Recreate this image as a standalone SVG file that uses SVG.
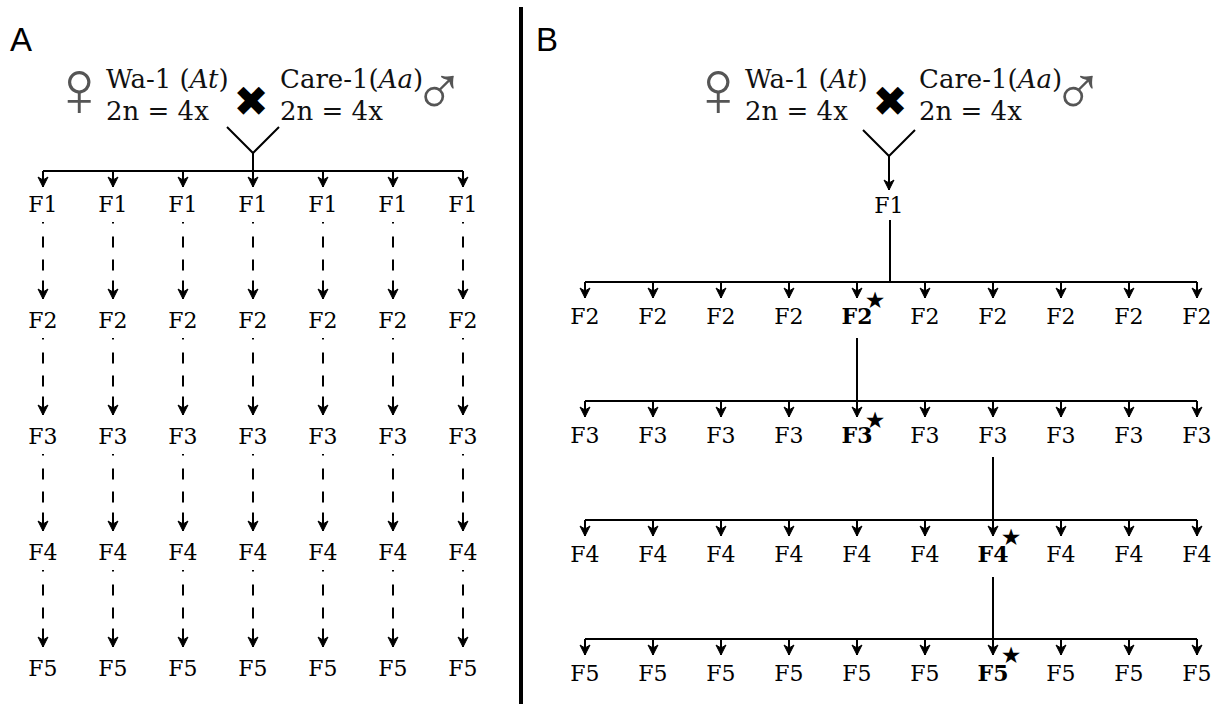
<svg xmlns="http://www.w3.org/2000/svg" width="1225" height="704" viewBox="0 0 1225 704">
<defs>
<style>
.lbl{font-family:"DejaVu Serif","Liberation Serif",serif;font-size:22px;fill:#000;text-anchor:middle}
.bold{font-weight:bold}
.par{font-family:"DejaVu Serif","Liberation Serif",serif;font-size:26px;fill:#111}
.panel{font-family:"Liberation Sans",Arial,sans-serif;font-size:33px;fill:#000}
.sym{font-family:"DejaVu Sans ExtraLight","DejaVu Sans",sans-serif;font-weight:200;fill:#555;text-anchor:middle}
.fem{font-size:80px}
.mal{font-size:70px}
.cross{font-family:"DejaVu Sans",sans-serif;fill:#000;font-size:42px;text-anchor:middle}
.ln{stroke:#000;stroke-width:2;fill:none}
.arr{stroke:#000;stroke-width:2;fill:none;marker-end:url(#ah)}
.dash{stroke-dasharray:1.5 13 11 12 11 10 30}
.star{font-family:"DejaVu Sans",sans-serif;font-size:23px;text-anchor:middle;fill:#000}
</style>
<marker id="ah" markerUnits="userSpaceOnUse" markerWidth="16" markerHeight="16" viewBox="-12 -8 16 16" refX="0" refY="0" orient="auto" overflow="visible">
<path d="M0,0 L-10,-5 L-7,0 L-10,5 Z" fill="#000" stroke="#000" stroke-width="1" stroke-linejoin="miter"/>
</marker>
</defs>
<rect width="1225" height="704" fill="#fff"/>

<!-- divider -->
<line x1="521" y1="7" x2="521" y2="704" stroke="#000" stroke-width="4"/>

<!-- Panel A -->
<g id="panelA">
<text class="panel" x="10" y="51">A</text>
<g id="A-parents">
<text class="sym fem" x="79" y="116">♀</text>
<text class="par" x="106" y="88">Wa-1 (<tspan font-style="italic">At</tspan>)</text>
<text class="par" x="106" y="120">2n = 4x</text>
<text class="cross" x="251" y="116">✖</text>
<text class="par" x="280" y="88">Care-1(<tspan font-style="italic">Aa</tspan>)</text>
<text class="par" x="280" y="120">2n = 4x</text>
<text class="sym mal" x="439" y="115">♂</text>
</g>
<g id="A-connectors">
<path class="ln" d="M227,127 L253,153 L279,127 M253,153 V171 M43,171 H463"/>
<path class="arr" d="M43,171 V187"/>
<path class="arr" d="M113,171 V187"/>
<path class="arr" d="M183,171 V187"/>
<path class="arr" d="M253,171 V187"/>
<path class="arr" d="M323,171 V187"/>
<path class="arr" d="M393,171 V187"/>
<path class="arr" d="M463,171 V187"/>
<g class="dash">
<path class="arr" d="M43,222 V299"/><path class="arr" d="M113,222 V299"/><path class="arr" d="M183,222 V299"/><path class="arr" d="M253,222 V299"/><path class="arr" d="M323,222 V299"/><path class="arr" d="M393,222 V299"/><path class="arr" d="M463,222 V299"/>
<path class="arr" d="M43,338 V415"/><path class="arr" d="M113,338 V415"/><path class="arr" d="M183,338 V415"/><path class="arr" d="M253,338 V415"/><path class="arr" d="M323,338 V415"/><path class="arr" d="M393,338 V415"/><path class="arr" d="M463,338 V415"/>
<path class="arr" d="M43,454 V531"/><path class="arr" d="M113,454 V531"/><path class="arr" d="M183,454 V531"/><path class="arr" d="M253,454 V531"/><path class="arr" d="M323,454 V531"/><path class="arr" d="M393,454 V531"/><path class="arr" d="M463,454 V531"/>
<path class="arr" d="M43,570 V647"/><path class="arr" d="M113,570 V647"/><path class="arr" d="M183,570 V647"/><path class="arr" d="M253,570 V647"/><path class="arr" d="M323,570 V647"/><path class="arr" d="M393,570 V647"/><path class="arr" d="M463,570 V647"/>
</g>
</g>
<g id="A-F1"><text class="lbl" x="43" y="212">F1</text><text class="lbl" x="113" y="212">F1</text><text class="lbl" x="183" y="212">F1</text><text class="lbl" x="253" y="212">F1</text><text class="lbl" x="323" y="212">F1</text><text class="lbl" x="393" y="212">F1</text><text class="lbl" x="463" y="212">F1</text></g>
<g id="A-F2"><text class="lbl" x="43" y="328">F2</text><text class="lbl" x="113" y="328">F2</text><text class="lbl" x="183" y="328">F2</text><text class="lbl" x="253" y="328">F2</text><text class="lbl" x="323" y="328">F2</text><text class="lbl" x="393" y="328">F2</text><text class="lbl" x="463" y="328">F2</text></g>
<g id="A-F3"><text class="lbl" x="43" y="444">F3</text><text class="lbl" x="113" y="444">F3</text><text class="lbl" x="183" y="444">F3</text><text class="lbl" x="253" y="444">F3</text><text class="lbl" x="323" y="444">F3</text><text class="lbl" x="393" y="444">F3</text><text class="lbl" x="463" y="444">F3</text></g>
<g id="A-F4"><text class="lbl" x="43" y="560">F4</text><text class="lbl" x="113" y="560">F4</text><text class="lbl" x="183" y="560">F4</text><text class="lbl" x="253" y="560">F4</text><text class="lbl" x="323" y="560">F4</text><text class="lbl" x="393" y="560">F4</text><text class="lbl" x="463" y="560">F4</text></g>
<g id="A-F5"><text class="lbl" x="43" y="676">F5</text><text class="lbl" x="113" y="676">F5</text><text class="lbl" x="183" y="676">F5</text><text class="lbl" x="253" y="676">F5</text><text class="lbl" x="323" y="676">F5</text><text class="lbl" x="393" y="676">F5</text><text class="lbl" x="463" y="676">F5</text></g>
</g>

<!-- Panel B -->
<g id="panelB">
<text class="panel" x="536" y="51">B</text>
<g id="B-parents">
<text class="sym fem" x="718" y="116">♀</text>
<text class="par" x="745" y="88">Wa-1 (<tspan font-style="italic">At</tspan>)</text>
<text class="par" x="745" y="120">2n = 4x</text>
<text class="cross" x="890" y="116">✖</text>
<text class="par" x="919" y="88">Care-1(<tspan font-style="italic">Aa</tspan>)</text>
<text class="par" x="919" y="120">2n = 4x</text>
<text class="sym mal" x="1078" y="115">♂</text>
</g>
<g id="B-connectors">
<path class="ln" d="M863,130 L889,156 L915,130"/>
<path class="arr" d="M889,156 V190"/>
<path class="ln" d="M890,220 V282 M585,282 H1197"/>
<path class="arr" d="M585,282 V298"/><path class="arr" d="M653,282 V298"/><path class="arr" d="M721,282 V298"/><path class="arr" d="M789,282 V298"/><path class="arr" d="M857,282 V298"/><path class="arr" d="M925,282 V298"/><path class="arr" d="M993,282 V298"/><path class="arr" d="M1061,282 V298"/><path class="arr" d="M1129,282 V298"/><path class="arr" d="M1197,282 V298"/>
<path class="ln" d="M857,338 V401 M585,401 H1197"/>
<path class="arr" d="M585,401 V417"/><path class="arr" d="M653,401 V417"/><path class="arr" d="M721,401 V417"/><path class="arr" d="M789,401 V417"/><path class="arr" d="M857,401 V417"/><path class="arr" d="M925,401 V417"/><path class="arr" d="M993,401 V417"/><path class="arr" d="M1061,401 V417"/><path class="arr" d="M1129,401 V417"/><path class="arr" d="M1197,401 V417"/>
<path class="ln" d="M993,457 V520 M585,520 H1197"/>
<path class="arr" d="M585,520 V536"/><path class="arr" d="M653,520 V536"/><path class="arr" d="M721,520 V536"/><path class="arr" d="M789,520 V536"/><path class="arr" d="M857,520 V536"/><path class="arr" d="M925,520 V536"/><path class="arr" d="M993,520 V536"/><path class="arr" d="M1061,520 V536"/><path class="arr" d="M1129,520 V536"/><path class="arr" d="M1197,520 V536"/>
<path class="ln" d="M993,577 V639 M585,639 H1197"/>
<path class="arr" d="M585,639 V655"/><path class="arr" d="M653,639 V655"/><path class="arr" d="M721,639 V655"/><path class="arr" d="M789,639 V655"/><path class="arr" d="M857,639 V655"/><path class="arr" d="M925,639 V655"/><path class="arr" d="M993,639 V655"/><path class="arr" d="M1061,639 V655"/><path class="arr" d="M1129,639 V655"/><path class="arr" d="M1197,639 V655"/>
</g>
<g id="B-F1"><text class="lbl" x="889" y="213">F1</text></g>
<g id="B-F2"><text class="lbl" x="585" y="324">F2</text><text class="lbl" x="653" y="324">F2</text><text class="lbl" x="721" y="324">F2</text><text class="lbl" x="789" y="324">F2</text><text class="lbl bold" x="857" y="324">F2</text><text class="star" x="875" y="308">★</text><text class="lbl" x="925" y="324">F2</text><text class="lbl" x="993" y="324">F2</text><text class="lbl" x="1061" y="324">F2</text><text class="lbl" x="1129" y="324">F2</text><text class="lbl" x="1197" y="324">F2</text></g>
<g id="B-F3"><text class="lbl" x="585" y="443">F3</text><text class="lbl" x="653" y="443">F3</text><text class="lbl" x="721" y="443">F3</text><text class="lbl" x="789" y="443">F3</text><text class="lbl bold" x="857" y="443">F3</text><text class="star" x="875" y="428">★</text><text class="lbl" x="925" y="443">F3</text><text class="lbl" x="993" y="443">F3</text><text class="lbl" x="1061" y="443">F3</text><text class="lbl" x="1129" y="443">F3</text><text class="lbl" x="1197" y="443">F3</text></g>
<g id="B-F4"><text class="lbl" x="585" y="562">F4</text><text class="lbl" x="653" y="562">F4</text><text class="lbl" x="721" y="562">F4</text><text class="lbl" x="789" y="562">F4</text><text class="lbl" x="857" y="562">F4</text><text class="lbl" x="925" y="562">F4</text><text class="lbl bold" x="993" y="562">F4</text><text class="star" x="1011" y="545">★</text><text class="lbl" x="1061" y="562">F4</text><text class="lbl" x="1129" y="562">F4</text><text class="lbl" x="1197" y="562">F4</text></g>
<g id="B-F5"><text class="lbl" x="585" y="681">F5</text><text class="lbl" x="653" y="681">F5</text><text class="lbl" x="721" y="681">F5</text><text class="lbl" x="789" y="681">F5</text><text class="lbl" x="857" y="681">F5</text><text class="lbl" x="925" y="681">F5</text><text class="lbl bold" x="993" y="681">F5</text><text class="star" x="1011" y="663">★</text><text class="lbl" x="1061" y="681">F5</text><text class="lbl" x="1129" y="681">F5</text><text class="lbl" x="1197" y="681">F5</text></g>
</g>
</svg>
